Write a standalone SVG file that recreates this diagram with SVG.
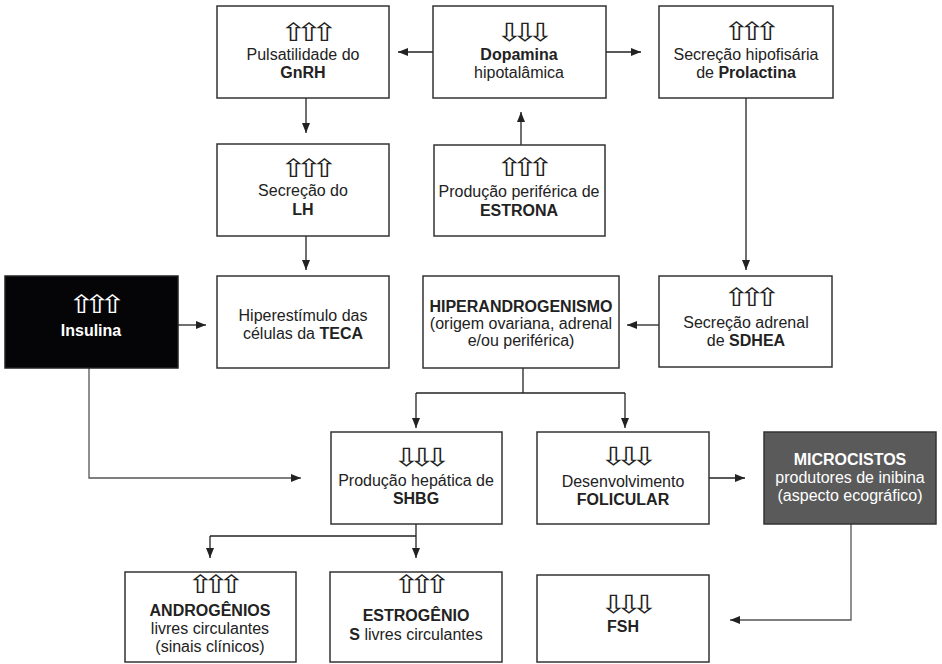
<svg xmlns="http://www.w3.org/2000/svg" width="942" height="664" viewBox="0 0 942 664">
<defs>
<style>
.box{fill:#fff;stroke:#333;stroke-width:1.5}
.t{font-family:"Liberation Sans",Arial,sans-serif;font-size:16px;fill:#222;text-anchor:middle}
.b{font-weight:bold}
.ar{font-family:"DejaVu Sans",sans-serif;font-size:25px;fill:#222;text-anchor:middle;letter-spacing:-9px}
.w{fill:#fff}
.ln{fill:none;stroke:#222;stroke-width:1.3}
.lg{fill:none;stroke:#555;stroke-width:1.3}
</style>
<marker id="ah" viewBox="0 0 10 8" refX="10" refY="4" markerWidth="10" markerHeight="8" markerUnits="userSpaceOnUse" orient="auto">
<path d="M0,0 L10,4 L0,8 Z" fill="#222"/>
</marker>
</defs>
<rect width="942" height="664" fill="#fff"/>

<g id="connectors">
<path class="ln" d="M433,52 H398" marker-end="url(#ah)"/>
<path class="ln" d="M606,52 H641" marker-end="url(#ah)"/>
<path class="ln" d="M306,98 V133" marker-end="url(#ah)"/>
<path class="ln" d="M521,145 V112" marker-end="url(#ah)"/>
<path class="ln" d="M306,236 V270" marker-end="url(#ah)"/>
<path class="ln" d="M746,98 V270" marker-end="url(#ah)"/>
<path class="ln" d="M178,325 H206" marker-end="url(#ah)"/>
<path class="ln" d="M659,325 H627" marker-end="url(#ah)"/>
<path class="lg" d="M89,368 V478 H301" marker-end="url(#ah)"/>
<path class="ln" d="M523,368 V393"/>
<path class="ln" d="M416,393 H625"/>
<path class="ln" d="M416,393 V428" marker-end="url(#ah)"/>
<path class="ln" d="M625,393 V428" marker-end="url(#ah)"/>
<path class="ln" d="M709,478 H745" marker-end="url(#ah)"/>
<path class="lg" d="M851,524 V620 H730" marker-end="url(#ah)"/>
<path class="ln" d="M416,524 V536"/>
<path class="ln" d="M210,536 H416"/>
<path class="ln" d="M210,536 V558" marker-end="url(#ah)"/>
<path class="ln" d="M416,536 V558" marker-end="url(#ah)"/>
</g>

<g id="gnrh">
<rect class="box" x="217" y="6" width="172" height="92"/>
<text class="ar" transform="translate(303,41) scale(1.3,1)">⇧⇧⇧</text>
<text class="t" x="303" y="60">Pulsatilidade do</text>
<text class="t b" x="303" y="78">GnRH</text>
</g>
<g id="dopamina">
<rect class="box" x="433" y="6" width="173" height="92"/>
<text class="ar" transform="translate(519,41) scale(1.3,1)">⇩⇩⇩</text>
<text class="t b" x="519" y="60">Dopamina</text>
<text class="t" x="519" y="78">hipotalâmica</text>
</g>
<g id="prolactina">
<rect class="box" x="659" y="6" width="174" height="92"/>
<text class="ar" transform="translate(746,40) scale(1.3,1)">⇧⇧⇧</text>
<text class="t" x="746" y="60">Secreção hipofisária</text>
<text class="t" x="746" y="78">de <tspan class="b">Prolactina</tspan></text>
</g>
<g id="lh">
<rect class="box" x="217" y="144" width="172" height="92"/>
<text class="ar" transform="translate(303,177) scale(1.3,1)">⇧⇧⇧</text>
<text class="t" x="303" y="196">Secreção do</text>
<text class="t b" x="303" y="215">LH</text>
</g>
<g id="estrona">
<rect class="box" x="434" y="145" width="171" height="91"/>
<text class="ar" transform="translate(519,176) scale(1.3,1)">⇧⇧⇧</text>
<text class="t" x="519" y="197">Produção periférica de</text>
<text class="t b" x="519" y="216">ESTRONA</text>
</g>
<g id="insulina">
<rect x="5" y="276" width="173" height="92" fill="#050508" stroke="#222" stroke-width="1.5"/>
<text class="ar w" transform="translate(91,313) scale(1.3,1)">⇧⇧⇧</text>
<text class="t b w" x="91" y="336">Insulina</text>
</g>
<g id="teca">
<rect class="box" x="217" y="276" width="172" height="92"/>
<text class="t" x="303" y="321">Hiperestímulo das</text>
<text class="t" x="303" y="339">células da <tspan class="b">TECA</tspan></text>
</g>
<g id="hiperandrogenismo">
<rect class="box" x="423" y="276" width="196" height="92"/>
<text class="t b" x="521" y="312">HIPERANDROGENISMO</text>
<text class="t" x="521" y="329">(origem ovariana, adrenal</text>
<text class="t" x="521" y="346">e/ou periférica)</text>
</g>
<g id="sdhea">
<rect class="box" x="659" y="276" width="173" height="91"/>
<text class="ar" transform="translate(746,306) scale(1.3,1)">⇧⇧⇧</text>
<text class="t" x="746" y="328">Secreção adrenal</text>
<text class="t" x="746" y="346">de <tspan class="b">SDHEA</tspan></text>
</g>
<g id="shbg">
<rect class="box" x="331" y="432" width="171" height="92"/>
<text class="ar" transform="translate(416,466) scale(1.3,1)">⇩⇩⇩</text>
<text class="t" x="416" y="486">Produção hepática de</text>
<text class="t b" x="416" y="504">SHBG</text>
</g>
<g id="folicular">
<rect class="box" x="537" y="432" width="172" height="92"/>
<text class="ar" transform="translate(623,465) scale(1.3,1)">⇩⇩⇩</text>
<text class="t" x="623" y="487">Desenvolvimento</text>
<text class="t b" x="623" y="505">FOLICULAR</text>
</g>
<g id="microcistos">
<rect x="764" y="432" width="172" height="92" fill="#5a5a5a" stroke="#333" stroke-width="1.5"/>
<text class="t b w" x="850" y="465">MICROCISTOS</text>
<text class="t w" x="850" y="483">produtores de inibina</text>
<text class="t w" x="850" y="501">(aspecto ecográfico)</text>
</g>
<g id="androgenios">
<rect class="box" x="125" y="572" width="171" height="90"/>
<text class="ar" transform="translate(210,593) scale(1.3,1)">⇧⇧⇧</text>
<text class="t b" x="210" y="616">ANDROGÊNIOS</text>
<text class="t" x="210" y="634">livres circulantes</text>
<text class="t" x="210" y="652">(sinais clínicos)</text>
</g>
<g id="estrogenios">
<rect class="box" x="330" y="572" width="172" height="90"/>
<text class="ar" transform="translate(416,593) scale(1.3,1)">⇧⇧⇧</text>
<text class="t b" x="416" y="621">ESTROGÊNIO</text>
<text class="t" x="416" y="640"><tspan class="b">S</tspan> livres circulantes</text>
</g>
<g id="fsh">
<rect class="box" x="537" y="575" width="172" height="87"/>
<text class="ar" transform="translate(623,613) scale(1.3,1)">⇩⇩⇩</text>
<text class="t b" x="623" y="632">FSH</text>
</g>
</svg>
